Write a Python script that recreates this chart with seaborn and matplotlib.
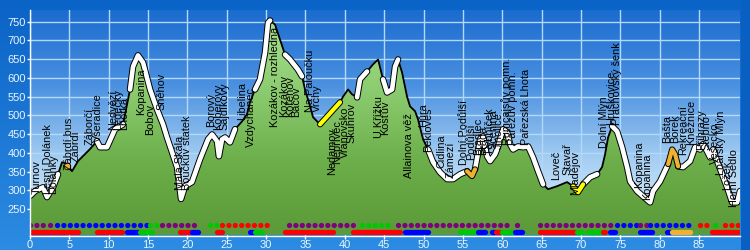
import numpy as np
import matplotlib
matplotlib.use("Agg")
import matplotlib.pyplot as plt
import seaborn as sns
from matplotlib import patheffects as pe
from matplotlib.colors import LinearSegmentedColormap

# ---------------- data ----------------
km = [0.0, 0.64, 1.65, 2.16, 2.92, 3.56, 4.07, 4.70, 5.34, 6.10, 7.62, 8.51, 8.89, 9.78, 10.80,
      11.82, 12.71, 13.09, 13.72, 14.36, 15.25, 16.14, 16.90, 17.41, 18.68, 19.19, 19.70, 20.58,
      21.60, 22.62, 23.13, 23.76, 24.00, 24.40, 24.78, 25.41, 26.05, 26.94, 27.57, 27.95, 28.59,
      29.22, 29.86, 30.24, 30.50, 31.13, 31.77, 32.40, 33.04, 34.05, 34.56, 34.94, 35.58, 35.96,
      36.85, 39.39, 39.77, 40.41, 40.91, 41.55, 41.93, 42.82, 43.58, 44.22, 44.85, 45.36, 46.00,
      46.38, 46.76, 47.27, 47.90, 48.28, 48.92, 49.30, 49.94, 50.57, 51.21, 52.10, 52.99, 53.75,
      54.64, 55.53, 56.16, 56.54, 56.93, 57.18, 57.56, 58.07, 58.45, 59.09, 59.47, 60.10, 60.61,
      60.99, 61.37, 62.00, 62.64, 63.28, 63.91, 64.55, 65.18, 65.82, 66.96, 68.23, 69.00, 69.63,
      70.27, 71.16, 72.05, 72.68, 73.06, 73.44, 73.95, 74.59, 75.22, 75.86, 76.24, 77.13, 77.89,
      78.78, 79.16, 80.05, 81.07, 81.58, 81.96, 82.34, 82.97, 83.86, 84.50, 85.13, 85.51, 86.02,
      86.40, 86.78, 87.29, 87.93, 88.56, 89.20, 89.83, 90.20]
elev = [285, 298, 308, 282, 308, 343, 375, 370, 351, 378, 410, 431, 415, 415, 463, 476, 569, 630,
        660, 641, 569, 516, 476, 441, 362, 277, 311, 322, 383, 436, 449, 431, 391, 436, 441, 428,
        463, 484, 503, 535, 569, 596, 667, 747, 753, 742, 702, 662, 649, 622, 604, 569, 524, 495,
        476, 535, 550, 569, 556, 548, 596, 617, 636, 649, 596, 561, 569, 630, 649, 614, 550, 524,
        511, 489, 436, 409, 375, 348, 330, 330, 343, 351, 338, 356, 401, 436, 444, 391, 378, 396,
        417, 463, 455, 423, 409, 417, 415, 417, 388, 351, 316, 303, 311, 322, 311, 295, 316, 335,
        343, 362, 396, 441, 471, 457, 415, 362, 324, 298, 284, 268, 298, 324, 370, 409, 396, 364,
        362, 378, 415, 409, 423, 404, 388, 409, 378, 343, 308, 268, 268, 298]
assert len(km) == len(elev)

# road surface segments (km from, km to)
white_segs = [(0.0, 3.56), (8.51, 11.82), (12.71, 26.05), (28.59, 30.50), (32.40, 34.56),
              (41.55, 42.82), (44.85, 46.76), (50.57, 55.53), (56.54, 65.18), (70.27, 72.05),
              (73.95, 81.07), (82.34, 90.20)]
yellow_segs = [(36.85, 39.39), (69.00, 70.27)]
orange_segs = [(55.53, 56.54), (81.07, 82.34)]

# trail marking rows (km from, km to, colour)
row1 = [(0.0, 1.9, "#800080"), (2.5, 3.2, "#800080"), (3.4, 14.9, "#0000ff"), (15.2, 16.3, "#00c800"),
        (16.8, 21.2, "#800080"), (22.9, 24.1, "#00c800"), (24.4, 30.2, "#ff0000"), (32.4, 32.4, "#ff0000"),
        (32.9, 41.0, "#800080"), (42.2, 46.1, "#00c800"), (46.8, 56.5, "#800080"), (56.9, 56.9, "#ff0000"),
        (57.3, 60.6, "#800080"), (61.9, 62.6, "#800080"), (64.8, 74.1, "#800080"), (74.6, 77.1, "#0000ff"),
        (77.5, 78.4, "#800080"), (78.8, 83.9, "#0000ff"), (84.3, 84.3, "#800080"), (85.1, 86.0, "#ff0000"),
        (86.5, 86.5, "#800080"), (87.0, 87.7, "#00c800"), (88.3, 90.0, "#ff0000")]
row2 = [(0.0, 2.5, "#ff0000"), (2.8, 4.4, "#ff0000"), (4.8, 6.1, "#ff0000"), (8.5, 11.7, "#ff0000"),
        (12.3, 13.7, "#0000ff"), (14.0, 15.5, "#00c800"), (19.1, 20.3, "#ff0000"), (20.6, 21.3, "#0000ff"),
        (23.8, 24.4, "#ff0000"), (28.0, 28.3, "#0000ff"), (28.6, 29.5, "#00c800"), (32.4, 38.5, "#ff0000"),
        (41.0, 47.0, "#ff0000"), (47.6, 50.6, "#0000ff"), (54.6, 56.5, "#00c800"), (56.9, 57.8, "#0000ff"),
        (58.7, 59.1, "#0000ff"), (59.2, 59.7, "#ff0000"), (60.0, 61.2, "#00c800"), (61.6, 62.5, "#0000ff"),
        (64.8, 69.3, "#ff0000"), (69.5, 70.1, "#00c800"), (70.9, 72.7, "#00c800"), (72.8, 73.1, "#ff0000"),
        (73.7, 74.3, "#0000ff"), (77.5, 79.0, "#0000ff"), (80.9, 81.4, "#0000ff"), (81.6, 83.9, "#f0b030"),
        (86.7, 90.0, "#ff0000")]

# waypoint labels: text, km, elevation of the label's lower end
labels = [("Turnov", 0.9, 290), ("Lesní Dolánek", 2.3, 290), ("Dolánky", 3.0, 290),
          ("Zábrdí bus", 5.0, 355), ("Zábrdí", 5.8, 375), ("Záborčí", 7.6, 421), ("Všeradice", 8.6, 430),
          ("Nedvězí", 10.5, 461), ("Ledečky", 11.2, 461), ("Lhotka", 11.9, 461), ("Kopanina", 14.1, 501),
          ("Bobov", 15.3, 447), ("Sněhov", 16.7, 514), ("Malá Skála", 19.0, 300),
          ("Boučkův statek", 20.0, 300), ("Borový", 23.0, 469), ("Koberovy", 23.9, 461),
          ("Sajdíkovy", 24.7, 461), ("Libelina", 26.9, 487), ("Vzdychanec", 28.1, 415),
          ("Kozákov - rozhledna", 31.1, 469), ("Kozákov", 32.3, 495), ("Kořenov", 33.0, 495),
          ("Bačov", 33.8, 495), ("Na Paloučku", 35.6, 509), ("Vrchy", 36.5, 509), ("Nedamov", 38.4, 340),
          ("Nepřívěc", 39.0, 370), ("Vranovsko", 40.0, 386), ("Skuhrov", 40.9, 426), ("U Křížku", 44.3, 439),
          ("Kosťův", 45.1, 447), ("Allainova věž", 48.1, 332), ("Hůra", 49.9, 469), ("Pekloves", 50.6, 402),
          ("Cidlina", 52.3, 359), ("Zámezí", 53.5, 332), ("Dolní Podůlší", 55.1, 367), ("Podůlší", 56.0, 380),
          ("Bradlec", 56.9, 395), ("Brada", 57.6, 395), ("Rybníček", 58.3, 400), ("Ščenina", 58.9, 410),
          ("Jinolice", 59.6, 410), ("Rumcajsův pomn.", 60.6, 421), ("Pařezův pomn.", 61.3, 421),
          ("Pařezská Lhota", 63.0, 421), ("Loveč", 66.8, 327), ("Stavař", 68.3, 341), ("Mladějov", 69.3, 288),
          ("Dolní Mlýn", 72.9, 413), ("Hruškovice", 73.8, 474), ("Prachovský šenk", 74.6, 474),
          ("Kopanina", 77.4, 306), ("Kopanina", 78.4, 274), ("Bašta", 81.0, 426), ("Borek", 81.9, 426),
          ("Rekreační", 83.0, 394), ("Kněžnice", 84.0, 420), ("Příhrazy", 85.2, 408), ("Stebno", 86.0, 408),
          ("Vesecko", 87.0, 370), ("Lnářský Mlýn", 87.8, 341), ("Ložek", 88.6, 300), ("Horní Sedlo", 89.5, 255)]

marker_pts_km = [4.70]
marker_pts_elev = [364]

x_ticks = list(range(0, 90, 5))
y_ticks = list(range(250, 751, 50))

# ---------------- drawing ----------------
FONT = ["Liberation Sans", "DejaVu Sans"]
plt.rcParams["font.family"] = FONT

W, H = 750, 250
fig = plt.figure(figsize=(W / 100, H / 100), dpi=100)

# figure background gradient
bg = fig.add_axes([0, 0, 1, 1], zorder=-10)
bg_cmap = LinearSegmentedColormap.from_list("bg", ["#0a63c6", "#2c8be2"])
bg.imshow(np.linspace(0, 1, 256).reshape(-1, 1), aspect="auto", cmap=bg_cmap,
          extent=[0, 1, 0, 1], origin="upper")
bg.axvspan(741 / W, 1, color="#0a5fc2", lw=0)
bg.set_xlim(0, 1); bg.set_ylim(0, 1)
bg.axis("off")

xmax = 90.2
ymin, ymax = 179.5, 781.0
ax = fig.add_axes([30 / W, 1 - 235.5 / H, 710 / W, 225.5 / H])
ax.set_facecolor("none")

# sky
sky_cmap = LinearSegmentedColormap.from_list("sky", ["#e6f3ff", "#a6cff2", "#4a90e0", "#1a6bcf"])
ax.imshow(np.linspace(0, 1, 256).reshape(-1, 1), aspect="auto", cmap=sky_cmap,
          extent=[0, xmax, ymin, ymax], origin="lower", zorder=0)

# grid
ax.set_axisbelow(True)
ax.grid(True, color="#b2d9fa", lw=1.0)

# terrain fill with gradient
poly = ax.fill_between(km, elev, ymin, color="none", lw=0)
grn_cmap = LinearSegmentedColormap.from_list("grn", ["#5a9a38", "#6cae4a", "#8ccc70", "#a9e092"])
terrain = ax.imshow(np.linspace(0, 1, 256).reshape(-1, 1), aspect="auto", cmap=grn_cmap,
                    extent=[0, xmax, ymin, 760], origin="lower", zorder=1)
terrain.set_clip_path(poly.get_paths()[0], transform=ax.transData)

# profile line
sns.lineplot(x=km, y=elev, ax=ax, color="black", lw=1.3, sort=False, estimator=None, zorder=3)

km_arr = np.array(km)
el_arr = np.array(elev)


def draw_segs(segs, color, lw):
    for a, b in segs:
        m = (km_arr >= a - 1e-6) & (km_arr <= b + 1e-6)
        ax.plot(km_arr[m], el_arr[m], color=color, lw=lw, solid_capstyle="round",
                solid_joinstyle="round", zorder=4,
                path_effects=[pe.Stroke(linewidth=lw + 1.4, foreground="black"), pe.Normal()])


draw_segs(white_segs, "white", 3.3)
draw_segs(yellow_segs, "#ffff00", 3.0)
draw_segs(orange_segs, "#f0b030", 3.0)

sns.scatterplot(x=marker_pts_km, y=marker_pts_elev, ax=ax, color="#f0b030", s=22,
                edgecolor="black", linewidth=0.6, zorder=5)

# trail marking rows
y_row1, y_row2 = 207.0, 189.5
for a, b, c in row1:
    ax.plot([a, b + 0.01], [y_row1, y_row1], color=c, lw=3.8, linestyle=(0, (0.01, 1.2)),
            dash_capstyle="round", zorder=5)
for a, b, c in row2:
    ax.plot([a, b], [y_row2, y_row2], color=c, lw=3.8, solid_capstyle="round", zorder=5)

# labels
for txt, x, y in labels:
    ax.text(x, y, txt, rotation=90, ha="center", va="bottom", fontsize=7.8,
            color="black", zorder=6, family=FONT)

ax.set_xlim(0, xmax)
ax.set_ylim(ymin, ymax)
ax.set_xticks(x_ticks)
ax.set_yticks(y_ticks)
ax.tick_params(axis="both", colors="white", labelcolor="#eaf5ff", labelsize=8,
               length=2, width=1, direction="out", pad=1)
for s in ["top", "right"]:
    ax.spines[s].set_visible(False)
for s in ["left", "bottom"]:
    ax.spines[s].set_color("white")
    ax.spines[s].set_linewidth(1)
    ax.spines[s].set_zorder(7)

fig.savefig("out.png", dpi=100)
